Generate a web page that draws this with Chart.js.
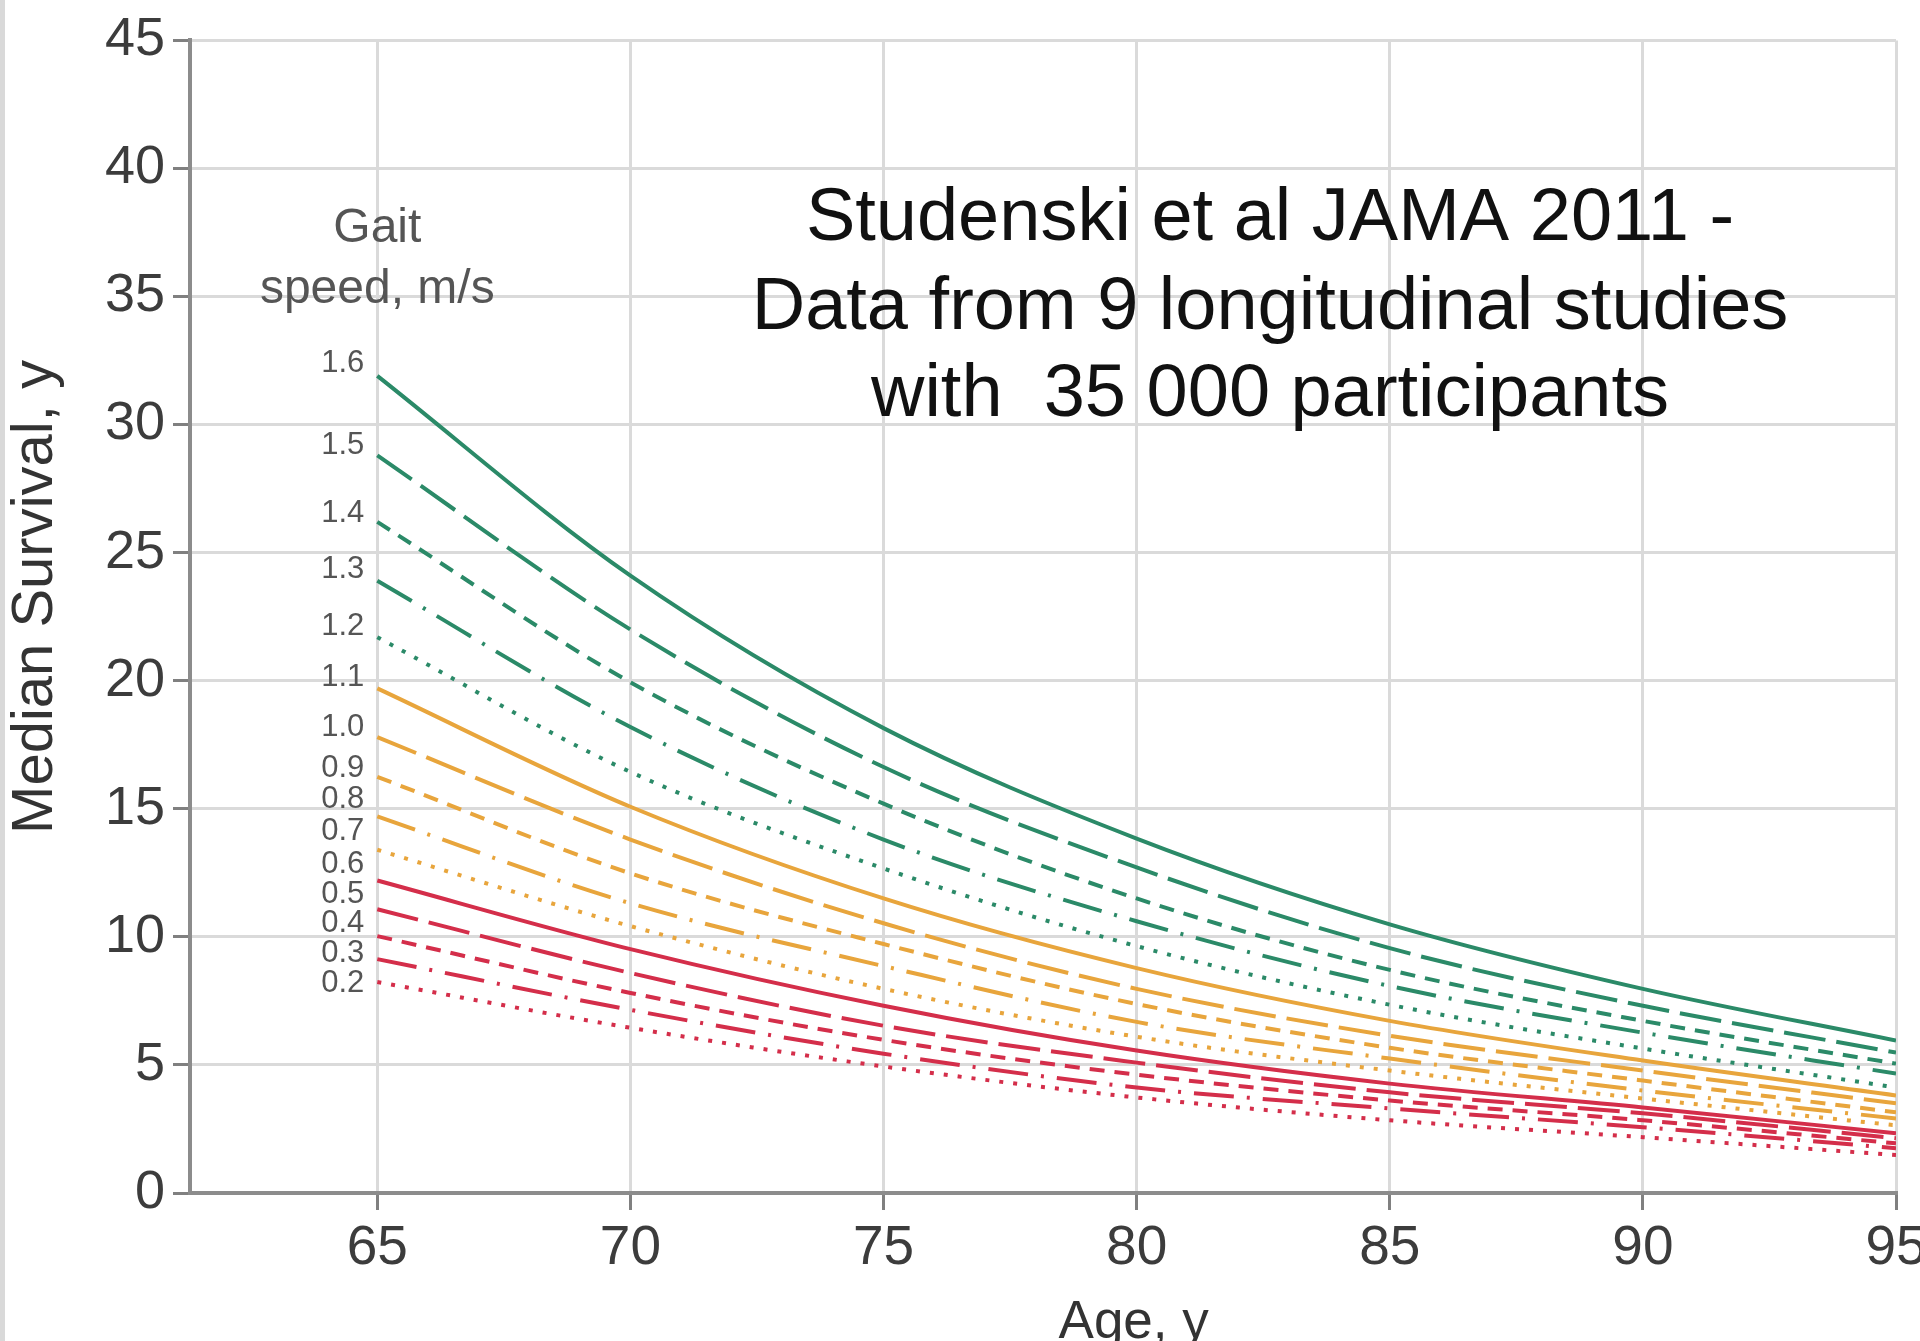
<!DOCTYPE html>
<html>
<head>
<meta charset="utf-8">
<title>Median survival by gait speed</title>
<script src="https://cdn.jsdelivr.net/npm/chart.js@4.4.1/dist/chart.umd.min.js"></script>
<style>
    html, body { margin: 0; padding: 0; background: #fff; overflow: hidden; }
    #wrap { position: relative; width: 1920px; height: 1341px; }
    #edge { position: absolute; left: 0; top: 0; width: 5px; height: 100%; background: #d9d9d9; }
</style>
</head>
<body>
<div id="wrap">
    <canvas id="survivalChart" width="1920" height="1341"></canvas>
    <div id="edge"></div>
</div>
<script>
// ages on the x axis (years)
const ages = [65, 70, 75, 80, 85, 90, 95];
const xTicks = [65, 70, 75, 80, 85, 90, 95];
const yTicks = [0, 5, 10, 15, 20, 25, 30, 35, 40, 45];

// gait speed, m/s
const speedLabels = ['1.6', '1.5', '1.4', '1.3', '1.2', '1.1', '1.0', '0.9', '0.8', '0.7', '0.6', '0.5', '0.4', '0.3', '0.2'];

// median survival (years) at each age
const surv16 = [31.9, 24.1, 18.15, 13.84, 10.49, 7.97, 5.95];
const surv15 = [28.8, 22.0, 16.63, 12.71, 9.56, 7.31, 5.48];
const surv14 = [26.2, 19.94, 15.2, 11.5, 8.71, 6.72, 5.05];
const surv13 = [23.9, 18.19, 13.8, 10.61, 8.08, 6.26, 4.66];
const surv12 = [21.7, 16.44, 12.67, 9.64, 7.35, 5.64, 4.12];
const surv11 = [19.7, 15.08, 11.5, 8.78, 6.72, 5.17, 3.81];
const surv10 = [17.8, 13.8, 10.53, 7.97, 6.14, 4.78, 3.5];
const surv09 = [16.25, 12.48, 9.72, 7.38, 5.67, 4.39, 3.15];
const surv08 = [14.7, 11.31, 8.86, 6.68, 5.25, 4.0, 2.91];
const surv07 = [13.4, 10.42, 7.97, 6.1, 4.78, 3.69, 2.64];
const surv06 = [12.2, 9.52, 7.31, 5.56, 4.27, 3.34, 2.33];
const surv05 = [11.08, 8.59, 6.53, 5.09, 3.93, 3.11, 2.14];
const surv04 = [10.03, 7.81, 5.98, 4.62, 3.61, 2.84, 1.94];
const surv03 = [9.13, 7.15, 5.44, 4.12, 3.3, 2.57, 1.75];
const surv02 = [8.24, 6.45, 4.94, 3.73, 2.84, 2.18, 1.48];

const titleLines = ['Studenski et al JAMA 2011 -', 'Data from 9 longitudinal studies', 'with  35 000 participants'];

const allSeries = [surv16, surv15, surv14, surv13, surv12, surv11, surv10, surv09, surv08, surv07, surv06, surv05, surv04, surv03, surv02];

const FONT = '"Liberation Sans", Arial, Helvetica, sans-serif';
Chart.defaults.font.family = FONT;

const groupColors = ['#2b8a68', '#e8a53c', '#d42e4a'];
const dashStyles = [[], [42, 11], [15, 10], [40, 13, 3, 13], [4, 10]];

const datasets = allSeries.map((vals, i) => ({
    label: speedLabels[i] + ' m/s',
    data: ages.map((a, j) => ({ x: a, y: vals[j] })),
    borderColor: groupColors[Math.floor(i / 5)],
    borderDash: dashStyles[i % 5],
    borderWidth: 4,
    pointRadius: 0,
    fill: false,
    cubicInterpolationMode: 'monotone'
}));

// text drawn inside the plot: study note, gait speed header, line labels, axis titles
const labelValues = [32.37, 29.19, 26.54, 24.33, 22.1, 20.13, 18.19, 16.56, 15.35, 14.11, 12.83, 11.66, 10.53, 9.37, 8.2];

const annotationPlugin = {
    id: 'annotations',
    afterDraw(chart) {
        const ctx = chart.ctx;
        const xs = chart.scales.x;
        const ys = chart.scales.y;
        ctx.save();

        ctx.fillStyle = '#111';
        ctx.font = '74px ' + FONT;
        ctx.textAlign = 'center';
        ctx.textBaseline = 'middle';
        const tx = 1270;
        [220, 309, 396].forEach((ty, k) => ctx.fillText(titleLines[k], tx, ty));

        const x65 = xs.getPixelForValue(65);
        ctx.fillStyle = '#555';
        ctx.font = '48px ' + FONT;
        ctx.fillText('Gait', x65, 229);
        ctx.fillText('speed, m/s', x65, 290);

        ctx.font = '31px ' + FONT;
        ctx.textAlign = 'right';
        speedLabels.forEach((s, i) => {
            ctx.fillText(s, x65 - 13, ys.getPixelForValue(labelValues[i]));
        });

        // y axis title, rotated
        ctx.fillStyle = '#333';
        ctx.font = '58px ' + FONT;
        ctx.textAlign = 'center';
        ctx.save();
        ctx.translate(36, 597);
        ctx.rotate(-Math.PI / 2);
        ctx.fillText('Median Survival, y', 0, 0);
        ctx.restore();

        ctx.font = '53px ' + FONT;
        ctx.textBaseline = 'alphabetic';
        ctx.fillText('Age, y', xs.getPixelForValue(80) - 3, 1338);

        ctx.restore();
    }
};

const chart = new Chart(document.getElementById('survivalChart').getContext('2d'), {
    type: 'line',
    data: { datasets: datasets },
    options: {
        responsive: false,
        animation: false,
        devicePixelRatio: 1,
        layout: { padding: { top: 35, right: 24, left: 0, bottom: 0 } },
        plugins: {
            legend: { display: false },
            tooltip: { enabled: false }
        },
        scales: {
            x: {
                type: 'linear',
                min: 61.3,
                max: 95,
                afterBuildTicks: (scale) => {
                    scale.ticks = xTicks.map(v => ({ value: v }));
                },
                afterFit: (scale) => {
                    scale.height = 148;
                    scale.paddingLeft = 0;
                    scale.paddingRight = 0;
                },
                ticks: {
                    includeBounds: false,
                    padding: 6,
                    color: '#3c3c3c',
                    font: { size: 55 },
                    maxRotation: 0
                },
                grid: {
                    color: '#dadada',
                    lineWidth: 3,
                    tickColor: '#808080',
                    tickWidth: 3,
                    tickLength: 17
                },
                border: { color: '#8c8c8c', width: 4 }
            },
            y: {
                min: 0,
                max: 45,
                afterBuildTicks: (scale) => {
                    scale.ticks = yTicks.map(v => ({ value: v }));
                },
                afterFit: (scale) => {
                    scale.width = 190;
                },
                ticks: {
                    padding: 8,
                    color: '#3c3c3c',
                    font: { size: 54 }
                },
                grid: {
                    color: '#dadada',
                    lineWidth: 3,
                    tickColor: '#808080',
                    tickWidth: 3,
                    tickLength: 17
                },
                border: { color: '#8c8c8c', width: 4 }
            }
        }
    },
    plugins: [annotationPlugin]
});
</script>
</body>
</html>
